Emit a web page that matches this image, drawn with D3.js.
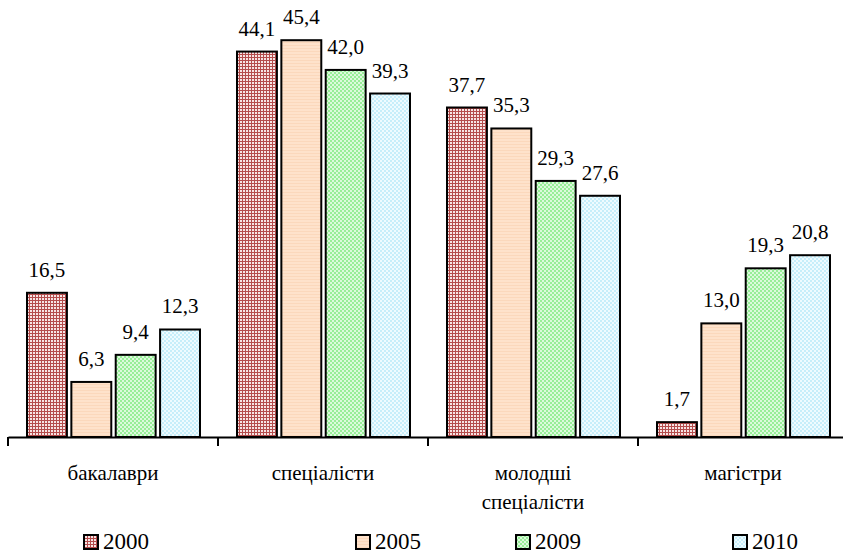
<!DOCTYPE html>
<html>
<head>
<meta charset="utf-8">
<script src="https://cdn.jsdelivr.net/npm/d3@7"></script>
</head>
<body style="margin:0">
<svg id="chart" width="843" height="553"></svg>
<script>
// data
const categories = ["бакалаври", "спеціалісти", "молодші спеціалісти", "магістри"];
const categoryLines = [["бакалаври"], ["спеціалісти"], ["молодші", "спеціалісти"], ["магістри"]];
const years = ["2000", "2005", "2009", "2010"];
const values2000 = [16.5, 44.1, 37.7, 1.7];
const values2005 = [6.3, 45.4, 35.3, 13.0];
const values2009 = [9.4, 42.0, 29.3, 19.3];
const values2010 = [12.3, 39.3, 27.6, 20.8];
const seriesValues = [values2000, values2005, values2009, values2010];

const FONT = '"Liberation Serif", "Times New Roman", serif';
const svg = d3.select("#chart");

const axisY = 437;
const x0 = d3.scaleBand().domain(categories).range([8, 848]).padding(0);
const x1 = d3.scaleBand().domain(years).range([19, 192]).paddingInner(0.1).paddingOuter(0);
const y = d3.scaleLinear().domain([0, 50]).range([axisY, axisY - 437]);

// fill patterns
const defs = svg.append("defs");
const p0 = defs.append("pattern").attr("id", "p2000")
  .attr("width", 3).attr("height", 3).attr("patternUnits", "userSpaceOnUse");
p0.append("rect").attr("width", 3).attr("height", 3).attr("fill", "#f6e4e4");
p0.append("rect").attr("width", 3).attr("height", 1).attr("fill", "#b44c4c");
p0.append("rect").attr("width", 1).attr("height", 3).attr("fill", "#b44c4c");
const p1 = defs.append("pattern").attr("id", "p2005")
  .attr("width", 2).attr("height", 3).attr("patternUnits", "userSpaceOnUse");
p1.append("rect").attr("width", 2).attr("height", 3).attr("fill", "#fee2cb");
p1.append("rect").attr("width", 2).attr("height", 1).attr("fill", "#fbd8bc");
const checker = (id, a, b) => {
  const p = defs.append("pattern").attr("id", id)
    .attr("width", 4).attr("height", 4).attr("patternUnits", "userSpaceOnUse");
  p.append("rect").attr("width", 4).attr("height", 4).attr("fill", b);
  p.append("rect").attr("width", 2).attr("height", 2).attr("fill", a);
  p.append("rect").attr("x", 2).attr("y", 2).attr("width", 2).attr("height", 2).attr("fill", a);
};
checker("p2009", "#98ee98", "#dcfadc");
checker("p2010", "#c6eefa", "#eefbff");
const fills = { "2000": "url(#p2000)", "2005": "url(#p2005)", "2009": "url(#p2009)", "2010": "url(#p2010)" };

const rows = categories.map((c, i) => ({
  category: c,
  bars: years.map((yr, j) => ({ year: yr, value: seriesValues[j][i] }))
}));

// axis
const axis = svg.append("g")
  .attr("transform", `translate(0,${axisY})`)
  .call(d3.axisBottom(x0).tickSizeInner(0).tickSizeOuter(0).tickFormat(""));
axis.select(".domain").attr("stroke", "#000").attr("stroke-width", 2);
axis.selectAll(".tick").remove();
const tickPos = categories.map(c => x0(c)).concat([x0.range()[1]]);
axis.selectAll("line.tk")
  .data(tickPos)
  .join("line")
  .attr("class", "tk")
  .attr("x1", d => d).attr("x2", d => d)
  .attr("y1", 0).attr("y2", 9)
  .attr("stroke", "#000")
  .attr("stroke-width", 2);

// bars
const groups = svg.append("g")
  .selectAll("g")
  .data(rows)
  .join("g")
  .attr("transform", d => `translate(${x0(d.category)},0)`);

groups.selectAll("rect")
  .data(d => d.bars)
  .join("rect")
  .attr("x", d => x1(d.year))
  .attr("y", d => y(d.value))
  .attr("width", x1.bandwidth())
  .attr("height", d => axisY - y(d.value))
  .attr("fill", d => fills[d.year])
  .attr("stroke", "#000")
  .attr("stroke-width", 2);

groups.selectAll("text.val")
  .data(d => d.bars)
  .join("text")
  .attr("class", "val")
  .attr("x", d => x1(d.year) + x1.bandwidth() / 2)
  .attr("y", d => y(d.value) - 16)
  .attr("text-anchor", "middle")
  .attr("font-size", 21)
  .style("font-family", FONT)
  .text(d => d3.format(".1f")(d.value).replace(".", ","));

// category labels
svg.append("g")
  .selectAll("text")
  .data(categories)
  .join("text")
  .attr("x", d => x0(d) + x0.bandwidth() / 2)
  .attr("y", 480)
  .attr("text-anchor", "middle")
  .attr("font-size", 21)
  .style("font-family", FONT)
  .each(function (d, i) {
    d3.select(this).selectAll("tspan")
      .data(categoryLines[i])
      .join("tspan")
      .attr("x", x0(d) + x0.bandwidth() / 2)
      .attr("dy", (t, k) => k === 0 ? 0 : 29)
      .text(t => t);
  });

// legend
const legendX = [84, 356, 516, 733];
const legend = svg.append("g")
  .selectAll("g")
  .data(years)
  .join("g")
  .attr("transform", (d, i) => `translate(${legendX[i]},535)`);
legend.append("rect")
  .attr("width", 14).attr("height", 14)
  .attr("fill", d => fills[d])
  .attr("stroke", "#000")
  .attr("stroke-width", 2);
legend.append("text")
  .attr("x", 19)
  .attr("y", 14)
  .attr("font-size", 23)
  .style("font-family", FONT)
  .text(d => d);
</script>
</body>
</html>
